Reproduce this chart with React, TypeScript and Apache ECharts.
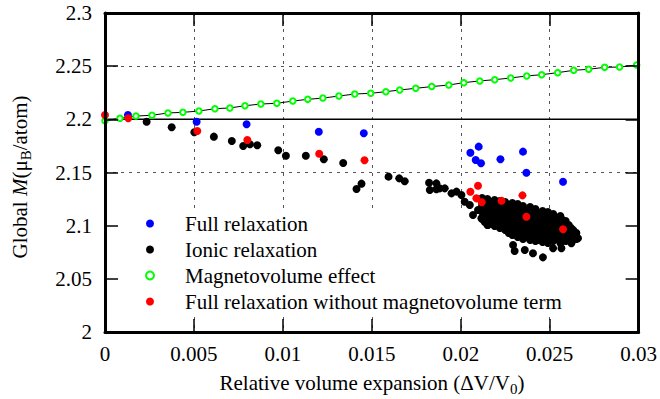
import React, { useEffect, useRef } from "react";
import * as echarts from "echarts";

const FONT = "Liberation Serif";

const seriesNames = [
  "Full relaxation",
  "Ionic relaxation",
  "Magnetovolume effect",
  "Full relaxation without magnetovolume term",
];

const xMin = 0;
const xMax = 0.03;
const xStep = 0.005;
const yMin = 2;
const yMax = 2.3;
const yStep = 0.05;

const referenceLevel: [number, number][] = [
  [0, 2.2],
  [0.03, 2.2],
];

const fullRelaxation: [number, number][] = [
  [0.00129, 2.2041], [0.00515, 2.1978], [0.00796, 2.1953], [0.01202, 2.1884],
  [0.01455, 2.1869], [0.02101, 2.1743], [0.02054, 2.1686], [0.02084, 2.1618],
  [0.02114, 2.1587], [0.02223, 2.1624], [0.0235, 2.1696], [0.02369, 2.1498],
  [0.02575, 2.1413],
];

const ionicRelaxation: [number, number][] = [
  [0.00234, 2.1978], [0.00375, 2.1925], [0.00502, 2.1878], [0.00612, 2.1837],
  [0.00713, 2.1796], [0.00777, 2.1749], [0.00815, 2.1765], [0.00856, 2.1756],
  [0.00974, 2.1709], [0.01017, 2.1658], [0.01129, 2.1658], [0.0123, 2.1624],
  [0.01339, 2.1589], [0.01414, 2.1345], [0.01442, 2.1395], [0.01594, 2.1461],
  [0.01654, 2.1445], [0.01685, 2.1417], [0.01822, 2.1404], [0.01826, 2.1335],
  [0.01863, 2.1398], [0.01863, 2.1342], [0.01882, 2.1351], [0.0191, 2.1351],
  [0.01948, 2.1304], [0.01976, 2.132], [0.02004, 2.1288], [0.02022, 2.1225],
  [0.02051, 2.1194], [0.02069, 2.11], [0.02116, 2.1069], [0.02153, 2.1006],
  [0.02097, 2.1147], [0.02144, 2.1147], [0.02172, 2.1116],
  [0.0212, 2.126], [0.0212, 2.1194], [0.0212, 2.1128], [0.0212, 2.1063],
  [0.0215, 2.1251], [0.0215, 2.1185], [0.0215, 2.1119], [0.0215, 2.1053], [0.0215, 2.1006],
  [0.0219, 2.1241], [0.0219, 2.1176], [0.0219, 2.111], [0.0219, 2.1044], [0.0219, 2.0997],
  [0.0222, 2.1232], [0.0222, 2.1166], [0.0222, 2.11], [0.0222, 2.1034], [0.0222, 2.0978],
  [0.0225, 2.1222], [0.0225, 2.1157], [0.0225, 2.1091], [0.0225, 2.1025], [0.0225, 2.0959],
  [0.0229, 2.1213], [0.0229, 2.1147], [0.0229, 2.1081], [0.0229, 2.1016], [0.0229, 2.095], [0.0229, 2.0912],
  [0.0232, 2.1204], [0.0232, 2.1138], [0.0232, 2.1072], [0.0232, 2.1006], [0.0232, 2.094], [0.0232, 2.0893],
  [0.0235, 2.1185], [0.0235, 2.1119], [0.0235, 2.1053], [0.0235, 2.0987], [0.0235, 2.0922], [0.0235, 2.0875],
  [0.0239, 2.1176], [0.0239, 2.111], [0.0239, 2.1044], [0.0239, 2.0978], [0.0239, 2.0912], [0.0239, 2.0865],
  [0.0242, 2.1157], [0.0242, 2.1091], [0.0242, 2.1025], [0.0242, 2.0959], [0.0242, 2.0893], [0.0242, 2.0856],
  [0.0246, 2.1138], [0.0246, 2.1072], [0.0246, 2.1006], [0.0246, 2.094], [0.0246, 2.0884], [0.0246, 2.0846],
  [0.0249, 2.1128], [0.0249, 2.1063], [0.0249, 2.0997], [0.0249, 2.0931], [0.0249, 2.0875], [0.0249, 2.0837],
  [0.0252, 2.111], [0.0252, 2.1044], [0.0252, 2.0978], [0.0252, 2.0912], [0.0252, 2.0856],
  [0.0256, 2.1091], [0.0256, 2.1025], [0.0256, 2.0959], [0.0256, 2.0893], [0.0256, 2.0837],
  [0.0259, 2.1044], [0.0259, 2.0978], [0.0259, 2.0912], [0.0259, 2.0856],
  [0.0262, 2.0978], [0.0262, 2.0922], [0.0262, 2.0865],
  [0.0265, 2.0931], [0.0265, 2.0875],
  [0.02135, 2.1222], [0.02135, 2.1157], [0.02135, 2.1091], [0.02135, 2.1034],
  [0.02169, 2.1213], [0.02169, 2.1147], [0.02169, 2.1081], [0.02169, 2.1025],
  [0.02202, 2.1204], [0.02202, 2.1138], [0.02202, 2.1072], [0.02202, 2.1006],
  [0.02236, 2.1194], [0.02236, 2.1128], [0.02236, 2.1063], [0.02236, 2.0997],
  [0.0227, 2.1185], [0.0227, 2.1119], [0.0227, 2.1053], [0.0227, 2.0987], [0.0227, 2.0931],
  [0.02303, 2.1176], [0.02303, 2.111], [0.02303, 2.1044], [0.02303, 2.0978], [0.02303, 2.0922],
  [0.02337, 2.1157], [0.02337, 2.1091], [0.02337, 2.1025], [0.02337, 2.0959], [0.02337, 2.0903],
  [0.02371, 2.1147], [0.02371, 2.1081], [0.02371, 2.1016], [0.02371, 2.095], [0.02371, 2.0893],
  [0.02404, 2.1128], [0.02404, 2.1063], [0.02404, 2.0997], [0.02404, 2.0931], [0.02404, 2.0884],
  [0.02438, 2.111], [0.02438, 2.1044], [0.02438, 2.0978], [0.02438, 2.0912], [0.02438, 2.0865],
  [0.02472, 2.11], [0.02472, 2.1034], [0.02472, 2.0969], [0.02472, 2.0903], [0.02472, 2.0856],
  [0.02506, 2.1081], [0.02506, 2.1016], [0.02506, 2.095], [0.02506, 2.0884],
  [0.02539, 2.1072], [0.02539, 2.1006], [0.02539, 2.094], [0.02539, 2.0875],
  [0.02573, 2.1053], [0.02573, 2.0987], [0.02573, 2.0922], [0.02573, 2.0865],
  [0.02607, 2.1006], [0.02607, 2.095], [0.02607, 2.0884],
  [0.02635, 2.095], [0.02635, 2.0893],
  [0.02294, 2.0818], [0.02303, 2.0762], [0.0236, 2.0771], [0.02406, 2.074],
  [0.02462, 2.0702], [0.02519, 2.0787], [0.02566, 2.0787], [0.02631, 2.0959],
  [0.02659, 2.0881], [0.02622, 2.0834],
];

const magnetovolumeX = [
  0, 0.00084, 0.00174, 0.00264, 0.00354, 0.00438, 0.00528, 0.00618, 0.00702,
  0.00787, 0.00876, 0.00966, 0.01056, 0.0114, 0.01225, 0.01315, 0.01404,
  0.01494, 0.01579, 0.01657, 0.01747, 0.01837, 0.01933, 0.02017, 0.02107,
  0.02191, 0.02281, 0.02371, 0.02455, 0.02545, 0.02635, 0.02719, 0.02809,
  0.02893, 0.02989,
];
const magnetovolumeY = [
  2.1987, 2.201, 2.2031, 2.2038, 2.206, 2.2066, 2.2078, 2.21, 2.2107, 2.2128,
  2.2144, 2.2151, 2.2172, 2.2188, 2.22, 2.2219, 2.2238, 2.2245, 2.226, 2.2276,
  2.2292, 2.2308, 2.2323, 2.2345, 2.2361, 2.2373, 2.2389, 2.2408, 2.242,
  2.2439, 2.2461, 2.2471, 2.2489, 2.2492, 2.2511,
];

const fullNoMagnetovolume: [number, number][] = [
  [0, 2.2041], [0.00131, 2.201], [0.00519, 2.189], [0.008, 2.1806],
  [0.01204, 2.1677], [0.01459, 2.1615], [0.02097, 2.1376], [0.02054, 2.1319],
  [0.02088, 2.1257], [0.02118, 2.122], [0.02229, 2.1235], [0.02347, 2.1285],
  [0.02369, 2.1084], [0.02575, 2.0966],
];

export default function App() {
  const ref = useRef<HTMLDivElement>(null);

  useEffect(() => {
    if (!ref.current) return;
    const chart = echarts.init(ref.current, undefined, { renderer: "svg" });
    const magnetovolume = magnetovolumeX.map((x, i) => [x, magnetovolumeY[i]]);
    const fmt = (v: number) => String(+v.toFixed(4));

    const frameAxis = (extra: any) => ({
      type: "value",
      z: 5,
      axisLine: { show: true, onZero: false, lineStyle: { color: "#000", width: 3 } },
      axisTick: { show: true, inside: true, length: 13, lineStyle: { color: "#000", width: 1.5 } },
      splitLine: { show: false },
      ...extra,
    });
    const gridAxis = (extra: any) => ({
      type: "value",
      z: 0,
      axisLine: { show: false },
      axisTick: { show: false },
      axisLabel: { show: false },
      splitLine: { show: true, lineStyle: { color: "#555", width: 1, type: [3, 5] } },
      ...extra,
    });
    const labelStyle = { fontSize: 21, fontFamily: FONT, color: "#000" };

    chart.setOption({
      animation: false,
      backgroundColor: "#fff",
      textStyle: { fontFamily: FONT },
      grid: { left: 105, right: 21, top: 13, bottom: 67, containLabel: false },
      xAxis: [
        frameAxis({ min: xMin, max: xMax, interval: xStep, position: "bottom", axisLabel: { ...labelStyle, margin: 11, formatter: fmt } }),
        frameAxis({ min: xMin, max: xMax, interval: xStep, position: "top", axisLabel: { show: false } }),
        gridAxis({ min: xMin, max: xMax, interval: xStep, position: "bottom" }),
      ],
      yAxis: [
        frameAxis({ min: yMin, max: yMax, interval: yStep, position: "left", axisLabel: { ...labelStyle, margin: 13, formatter: fmt } }),
        frameAxis({ min: yMin, max: yMax, interval: yStep, position: "right", axisLabel: { show: false } }),
        gridAxis({ min: yMin, max: yMax, interval: yStep, position: "left" }),
      ],
      legend: {
        data: seriesNames,
        orient: "vertical",
        left: 145,
        top: 213,
        padding: 0,
        itemWidth: 60,
        itemHeight: 8,
        itemGap: 5,
        textStyle: { fontSize: 21, fontFamily: FONT, color: "#000", lineHeight: 21 },
        selectedMode: false,
      },
      graphic: [
        {
          type: "rect",
          z: 1,
          silent: true,
          shape: { x: 107, y: 210, width: 530, height: 106 },
          style: { fill: "#fff" },
        },
        {
          type: "text",
          z: 10,
          x: 372,
          y: 383,
          style: {
            text: "{a|Relative volume expansion (ΔV/V}{s|0}{a|)}",
            align: "center",
            verticalAlign: "middle",
            fill: "#000",
            fontFamily: FONT,
            fontSize: 21,
            rich: {
              a: { fontSize: 21, fontFamily: FONT, fill: "#000", lineHeight: 26 },
              s: { fontSize: 15, fontFamily: FONT, fill: "#000", lineHeight: 15, verticalAlign: "bottom" },
            },
          },
        },
        {
          type: "text",
          z: 10,
          x: 20,
          y: 177,
          rotation: Math.PI / 2,
          style: {
            text: "{a|Global }{i|M}{a|(μ}{s|B}{a|/atom)}",
            align: "center",
            verticalAlign: "middle",
            fill: "#000",
            fontFamily: FONT,
            fontSize: 21,
            rich: {
              a: { fontSize: 21, fontFamily: FONT, fill: "#000", lineHeight: 26 },
              i: { fontSize: 21, fontFamily: FONT, fontStyle: "italic", fill: "#000", lineHeight: 26 },
              s: { fontSize: 15, fontFamily: FONT, fill: "#000", lineHeight: 15, verticalAlign: "bottom" },
            },
          },
        },
      ],
      series: [
        {
          name: "ref",
          type: "line",
          data: referenceLevel,
          symbol: "none",
          silent: true,
          z: 2,
          lineStyle: { color: "#000", width: 1.5 },
        },
        {
          name: seriesNames[0],
          type: "scatter",
          data: fullRelaxation,
          symbol: "circle",
          symbolSize: 8,
          z: 3,
          itemStyle: { color: "#0000ff", opacity: 1 },
        },
        {
          name: seriesNames[1],
          type: "scatter",
          data: ionicRelaxation,
          symbol: "circle",
          symbolSize: 8,
          z: 3,
          large: false,
          itemStyle: { color: "#000000", opacity: 1 },
        },
        {
          name: "mvLine",
          type: "line",
          data: magnetovolume,
          symbol: "none",
          silent: true,
          z: 3,
          lineStyle: { color: "#000", width: 1 },
        },
        {
          name: seriesNames[2],
          type: "scatter",
          data: magnetovolume,
          symbol: "emptyCircle",
          symbolSize: 5.5,
          z: 3,
          itemStyle: { color: "#00ff00", borderColor: "#00ff00", borderWidth: 2.5, opacity: 1 },
        },
        {
          name: seriesNames[3],
          type: "scatter",
          data: fullNoMagnetovolume,
          symbol: "circle",
          symbolSize: 8,
          z: 3,
          itemStyle: { color: "#ff0000", opacity: 1 },
        },
      ],
    });
    return () => chart.dispose();
  }, []);

  return (
    <div
      ref={ref}
      style={{ position: "fixed", left: 0, top: 0, width: 660, height: 399, background: "#fff" }}
    />
  );
}
